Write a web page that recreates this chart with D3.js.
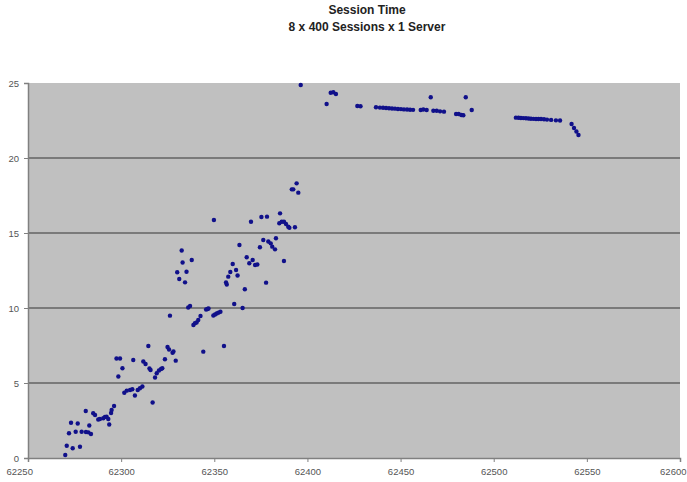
<!DOCTYPE html>
<html>
<head>
<meta charset="utf-8">
<script src="https://cdn.jsdelivr.net/npm/d3@7"></script>
<style>
  html, body { margin: 0; padding: 0; background: #ffffff; }
  svg { display: block; }
  text { font-family: "Liberation Sans", Arial, sans-serif; }
</style>
</head>
<body>
<svg id="chart" width="687" height="482"></svg>
<script>
// ---- Data ----
const titleLines = ["Session Time", "8 x 400 Sessions x 1 Server"];
const xTicks = [62250, 62300, 62350, 62400, 62450, 62500, 62550, 62600];
const yTicks = [0, 5, 10, 15, 20, 25];

// session id (x) and session time (y)
const sessionIds = [
  62270, 62270.8, 62274, 62277.9, 62272, 62275.6, 62278.8, 62281.1, 62282.4, 62283.8,
  62273.1, 62276.7, 62282.9, 62281, 62285, 62286, 62287.7, 62288.6, 62290.4, 62291.3,
  62292.2, 62293.1, 62293.6, 62294.6, 62294.9, 62296.2, 62298.5, 62297.5, 62299.4, 62300.7,
  62301.7, 62303, 62304.8, 62306, 62307.4, 62308.9, 62310.1, 62311.4, 62306.5, 62311.9,
  62313.1, 62314.6, 62315.2, 62315.8, 62316.9, 62318.2, 62319.1, 62320.3, 62321.4, 62322.1,
  62323.5, 62324.9, 62325.7, 62327.6, 62328.1, 62329.3, 62326.2, 62332.5, 62333, 62337.9,
  62330.1, 62335.1, 62331.2, 62334.3, 62336, 62337, 62338.8, 62339.6, 62340.5, 62341.4,
  62342.6, 62345.6, 62346.4, 62346.9, 62344.1, 62349.8, 62349.5, 62350.4, 62351.3, 62352.2,
  62353.3, 62355.2, 62356.3, 62356.7, 62357.5, 62358.6, 62359.9, 62361.7, 62362.5, 62363.5,
  62360.7, 62365.2, 62366.4, 62367.4, 62368.8, 62369.7, 62370.6, 62371.9, 62373.1, 62374.5,
  62375.3, 62376.3, 62377.8, 62378.3, 62379, 62380.3, 62381.1, 62382.6, 62383.1, 62385.3,
  62384.9, 62386.2, 62387.4, 62388.5, 62389.7, 62390.3, 62393.3, 62387.4, 62391.6, 62392.4,
  62394.2, 62395.1, 62396.4,
  62410.3, 62412.5, 62413.9, 62415.3, 62426.8, 62428.5, 62436.8,
  62438.9, 62440.6, 62442.2, 62443.8, 62445.4, 62447, 62448.6, 62450.2, 62451.8, 62453.5,
  62455.1, 62456.7, 62460.8, 62462.2, 62464, 62466.2, 62467.6, 62469.4, 62471.2, 62473.3,
  62479.8, 62481.2, 62482.6, 62483.7, 62485, 62488.2,
  62511.9, 62513.3, 62514.6, 62515.9, 62517.3, 62518.7, 62520, 62521.4, 62522.7, 62524,
  62525.4, 62527, 62528.6, 62530.8, 62533.4, 62535.6, 62541.8, 62543.1, 62544.4, 62545.5
];
const sessionTimes = [
  0.2, 0.82, 0.65, 0.75, 1.65, 1.75, 1.75, 1.73, 1.71, 1.6,
  2.35, 2.3, 2.17, 3.13, 2.98, 2.87, 2.57, 2.6, 2.65, 2.73,
  2.75, 2.6, 2.23, 3.0, 3.2, 3.47, 5.43, 6.63, 6.63, 5.98,
  4.35, 4.49, 4.53, 4.58, 4.17, 4.53, 4.65, 4.77, 6.53, 6.43,
  6.27, 7.47, 5.97, 5.87, 3.7, 5.37, 5.65, 5.83, 5.93, 5.98,
  6.58, 7.4, 7.23, 7.02, 7.1, 6.49, 9.49, 13.83, 13.03, 13.2,
  12.38, 12.42, 11.93, 11.71, 10.03, 10.13, 8.87, 8.98, 9.03, 9.2,
  9.47, 9.9, 9.93, 9.97, 7.09, 15.87, 9.5, 9.57, 9.63, 9.69,
  9.75, 7.47, 11.7, 11.57, 12.09, 12.4, 12.93, 12.53, 12.17, 14.2,
  10.27, 10.0, 11.25, 13.38, 12.98, 15.75, 13.2, 12.87, 12.9, 14.05,
  16.07, 14.53, 11.69, 16.09, 14.43, 14.31, 14.09, 13.91, 14.65, 16.31,
  15.65, 15.75, 15.75, 15.6, 15.42, 15.35, 15.38, 13.13, 17.91, 17.91,
  18.31, 17.69, 24.87,
  23.6, 24.35, 24.38, 24.27, 23.47, 23.45, 23.38,
  23.36, 23.35, 23.33, 23.32, 23.3, 23.29, 23.27, 23.26, 23.24, 23.23,
  23.22, 23.21, 23.2, 23.23, 23.2, 24.05, 23.15, 23.15, 23.11, 23.09,
  22.93, 22.93, 22.87, 22.85, 24.05, 23.2,
  22.69, 22.68, 22.67, 22.66, 22.65, 22.63, 22.62, 22.61, 22.6, 22.6,
  22.6, 22.58, 22.56, 22.54, 22.51, 22.5, 22.27, 22.0, 21.77, 21.53
];

// ---- Layout ----
const W = 687, H = 482;
const plot = { left: 28, right: 680, top: 83, bottom: 458 };

const svg = d3.select("#chart");
svg.append("rect").attr("width", W).attr("height", H).attr("fill", "#ffffff");

const x = d3.scaleLinear().domain([62250, 62600]).range([plot.left, plot.right]);
const y = d3.scaleLinear().domain([0, 25]).range([plot.bottom, plot.top]);

// plot background
svg.append("rect")
  .attr("x", plot.left).attr("y", plot.top)
  .attr("width", plot.right - plot.left).attr("height", plot.bottom - plot.top)
  .attr("fill", "#c0c0c0");

// gridlines
svg.append("g").selectAll("line")
  .data(yTicks.filter(t => t > 0 && t < 25))
  .join("line")
  .attr("x1", plot.left).attr("x2", plot.right)
  .attr("y1", d => y(d)).attr("y2", d => y(d))
  .attr("stroke", "#7a7a7a").attr("stroke-width", 2);

// axes
const yAxis = d3.axisLeft(y).tickValues(yTicks).tickSize(4).tickPadding(5).tickFormat(d3.format("d"));
const gy = svg.append("g").attr("transform", `translate(${plot.left},0)`).call(yAxis);
const xAxis = d3.axisBottom(x).tickValues(xTicks).tickSize(4).tickPadding(6).tickFormat(d3.format("d"));
const gx = svg.append("g").attr("transform", `translate(0,${plot.bottom})`).call(xAxis);

[gx, gy].forEach(g => {
  g.select(".domain").attr("stroke", "#808080").attr("stroke-width", 1.5);
  g.selectAll(".tick line").attr("stroke", "#808080");
  g.selectAll(".tick text")
    .attr("fill", "#555555")
    .style("font-size", "9.5px")
    .style("font-family", "'Liberation Sans', Arial, sans-serif");
});
// keep the edge labels inside the window
gx.selectAll(".tick text")
  .filter(d => d === xTicks[xTicks.length - 1])
  .attr("text-anchor", "end").attr("dx", 6);
gx.selectAll(".tick text")
  .filter(d => d === xTicks[0])
  .attr("text-anchor", "start").attr("dx", -22);

// points
const points = sessionIds.map((s, i) => ({ s, t: sessionTimes[i] }));
svg.append("g").selectAll("circle")
  .data(points)
  .join("circle")
  .attr("cx", d => x(d.s))
  .attr("cy", d => y(d.t))
  .attr("r", 2.2)
  .attr("fill", "#10108a");

// title
svg.append("g").selectAll("text")
  .data(titleLines)
  .join("text")
  .attr("x", 367)
  .attr("y", (d, i) => 14 + i * 17)
  .attr("text-anchor", "middle")
  .attr("font-weight", "bold")
  .attr("font-size", "12px")
  .attr("fill", "#222")
  .text(d => d);
</script>
</body>
</html>
